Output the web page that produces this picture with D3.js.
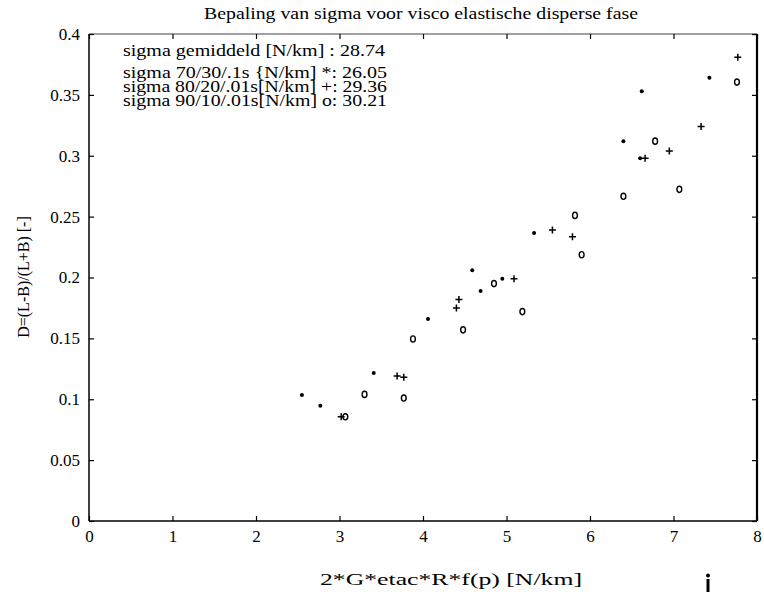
<!DOCTYPE html>
<html>
<head>
<meta charset="utf-8">
<script src="https://cdn.jsdelivr.net/npm/d3@7"></script>
<style>
  body { margin: 0; background: #fff; }
  svg text { font-family: "Liberation Serif", "Times New Roman", serif; fill: #000; }
</style>
</head>
<body>
<div id="chart"></div>
<script>
// series: * 70/30/.1s, + 80/20/.01s, o 90/10/.01s
var starX = [2.55, 2.77, 3.41, 4.06, 4.59, 4.69, 4.95, 5.33, 6.40, 6.60, 6.62, 7.43];
var starY = [0.1035, 0.0947, 0.1215, 0.166, 0.206, 0.189, 0.199, 0.2365, 0.312, 0.298, 0.353, 0.364];
var plusX = [3.02, 3.69, 3.77, 4.40, 4.43, 5.09, 5.55, 5.79, 6.66, 6.95, 7.33, 7.77];
var plusY = [0.0856, 0.119, 0.118, 0.175, 0.182, 0.199, 0.239, 0.2335, 0.298, 0.304, 0.324, 0.381];
var circX = [3.07, 3.30, 3.77, 3.88, 4.48, 4.85, 5.19, 5.82, 5.90, 6.40, 6.78, 7.07, 7.76];
var circY = [0.0856, 0.104, 0.101, 0.1495, 0.157, 0.195, 0.172, 0.251, 0.2187, 0.2667, 0.312, 0.2724, 0.3605];

var xTicks = [0, 1, 2, 3, 4, 5, 6, 7, 8];
var yTicks = [0, 0.05, 0.1, 0.15, 0.2, 0.25, 0.3, 0.35, 0.4];
var legendLines = [
  "sigma gemiddeld [N/km]  : 28.74",
  "sigma 70/30/.1s {N/km] *: 26.05",
  "sigma 80/20/.01s[N/km] +: 29.36",
  "sigma 90/10/.01s[N/km] o: 30.21"
];

var drawChart = function () {
  var W = 764, H = 592;
  var pl = 89, pr = 757, pt = 34, pb = 521;

  var svg = d3.select("#chart").append("svg")
    .attr("width", W)
    .attr("height", H);

  var x = d3.scaleLinear().domain([0, 8]).range([pl, pr]);
  var y = d3.scaleLinear().domain([0, 0.4]).range([pb, pt]);

  // frame: scanned original, top edge is faint, right edge heavy
  svg.append("line")
    .attr("x1", pl).attr("x2", pr).attr("y1", pt).attr("y2", pt)
    .attr("stroke", "#444").attr("stroke-width", 1.2);
  svg.append("line")
    .attr("x1", pl).attr("x2", pr).attr("y1", pb).attr("y2", pb)
    .attr("stroke", "#000").attr("stroke-width", 1.5);
  svg.append("line")
    .attr("x1", pl).attr("x2", pl).attr("y1", pt).attr("y2", pb)
    .attr("stroke", "#000").attr("stroke-width", 1.5);
  svg.append("line")
    .attr("x1", pr).attr("x2", pr).attr("y1", pt).attr("y2", pb)
    .attr("stroke", "#000").attr("stroke-width", 2.2);

  // axes, ticks pointing inward like matlab
  var xb = svg.append("g").attr("transform", "translate(0," + pb + ")")
    .call(d3.axisBottom(x).tickValues(xTicks).tickSize(-5).tickPadding(9).tickFormat(d3.format("d")));
  var xt = svg.append("g").attr("transform", "translate(0," + pt + ")")
    .call(d3.axisTop(x).tickValues(xTicks).tickSize(-5).tickFormat(""));
  var yl = svg.append("g").attr("transform", "translate(" + pl + ",0)")
    .call(d3.axisLeft(y).tickValues(yTicks).tickSize(-5).tickPadding(9)
      .tickFormat(function (d) { return String(+d.toFixed(2)); }));
  var yr = svg.append("g").attr("transform", "translate(" + pr + ",0)")
    .call(d3.axisRight(y).tickValues(yTicks).tickSize(-5).tickFormat(""));

  [xb, xt, yl, yr].forEach(function (g) {
    g.select(".domain").remove();
    g.selectAll(".tick line").attr("stroke", "#000").attr("stroke-width", 1.2);
    g.selectAll("text").attr("font-family", null).attr("font-size", null)
      .style("font-size", "17px");
  });

  // markers
  svg.selectAll("circle.star")
    .data(d3.zip(starX, starY))
    .enter().append("circle")
      .attr("class", "star")
      .attr("cx", function (d) { return x(d[0]); })
      .attr("cy", function (d) { return y(d[1]); })
      .attr("r", 2)
      .attr("fill", "#000");

  svg.selectAll("path.plus")
    .data(d3.zip(plusX, plusY))
    .enter().append("path")
      .attr("class", "plus")
      .attr("d", function (d) {
        var cx = x(d[0]), cy = y(d[1]);
        return "M" + (cx - 3.5) + "," + cy + "H" + (cx + 3.5) + "M" + cx + "," + (cy - 3.5) + "V" + (cy + 3.5);
      })
      .attr("stroke", "#000")
      .attr("stroke-width", 1.5);

  svg.selectAll("ellipse.circ")
    .data(d3.zip(circX, circY))
    .enter().append("ellipse")
      .attr("class", "circ")
      .attr("cx", function (d) { return x(d[0]); })
      .attr("cy", function (d) { return y(d[1]); })
      .attr("rx", 2.4)
      .attr("ry", 3.1)
      .attr("fill", "none")
      .attr("stroke", "#000")
      .attr("stroke-width", 1.4);

  // title and labels (the scan has wide letterforms, so stretch to the measured widths)
  svg.append("text")
    .attr("x", 204).attr("y", 19)
    .attr("textLength", 434)
    .attr("lengthAdjust", "spacingAndGlyphs")
    .style("font-size", "17px")
    .text("Bepaling van sigma voor visco elastische disperse fase");

  svg.selectAll("text.legend")
    .data(legendLines)
    .enter().append("text")
      .attr("class", "legend")
      .attr("x", 123)
      .attr("y", function (d, i) { return [56, 78, 92, 106][i]; })
      .attr("textLength", function (d, i) { return i == 0 ? 262 : 264; })
      .attr("lengthAdjust", "spacingAndGlyphs")
      .style("font-size", "17px")
      .text(function (d) { return d; });

  svg.append("text")
    .attr("transform", "translate(29,277) rotate(-90)")
    .attr("text-anchor", "middle")
    .style("font-size", "16px")
    .text("D=(L-B)/(L+B) [-]");

  svg.append("text")
    .attr("x", 320).attr("y", 585)
    .attr("textLength", 262)
    .attr("lengthAdjust", "spacingAndGlyphs")
    .style("font-size", "17px")
    .text("2*G*etac*R*f(p) [N/km]");

  // stray pen mark under the axis in the scan
  svg.append("line")
    .attr("x1", 708).attr("x2", 708).attr("y1", 579).attr("y2", 592)
    .attr("stroke", "#000").attr("stroke-width", 3);
  svg.append("circle")
    .attr("cx", 708).attr("cy", 575.5).attr("r", 2)
    .attr("fill", "#000");
};

drawChart();
</script>
</body>
</html>
